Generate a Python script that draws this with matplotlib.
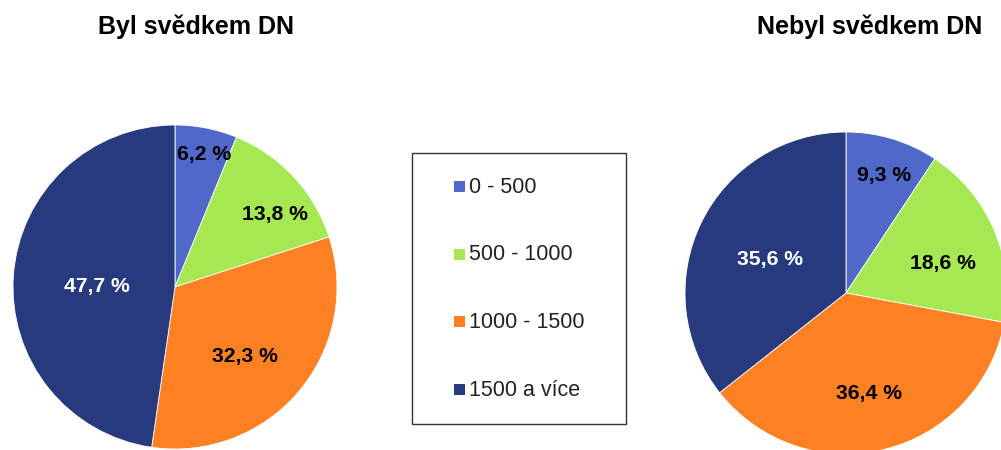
import matplotlib.pyplot as plt
from matplotlib.patches import Rectangle
import numpy as np

plt.rcParams['font.family'] = ['Liberation Sans', 'DejaVu Sans']

categories = ["0 - 500", "500 - 1000", "1000 - 1500", "1500 a více"]
colors = ["#5068C8", "#A6E852", "#FD8022", "#283A7E"]
label_colors = ["black", "black", "black", "white"]

titles = ["Byl svědkem DN", "Nebyl svědkem DN"]
byl = [6.2, 13.8, 32.3, 47.7]
nebyl = [9.3, 18.6, 36.4, 35.6]

# label placement inside wedges (fraction of radius, angle tweak in degrees)
byl_dist = [0.85, 0.77, 0.60, 0.48]
byl_dang = [-1, -6, -4, 2]
nebyl_dist = [0.78, 0.63, 0.63, 0.52]
nebyl_dang = [-1, -5, -1, 1]

W, H = 1001, 450
fig = plt.figure(figsize=(W / 100, H / 100), dpi=100)
ax = fig.add_axes([0, 0, 1, 1])


def draw_pie(values, center, radius, dist, dang, title, title_x):
    cx, cy = center[0], H - center[1]
    wedges, _ = ax.pie(values, colors=colors, startangle=90, counterclock=False,
                       center=(cx, cy), radius=radius,
                       wedgeprops=dict(edgecolor='white', linewidth=0.6))
    for w, v, d, da, tc in zip(wedges, values, dist, dang, label_colors):
        ang = np.deg2rad((w.theta1 + w.theta2) / 2 + da)
        ax.text(cx + d * radius * np.cos(ang), cy + d * radius * np.sin(ang) - 2,
                f"{v:.1f} %".replace('.', ','), ha='center', va='center',
                fontsize=15.2, fontweight='bold', color=tc)
    ax.text(title_x, H - 34, title, ha='center', va='baseline',
            fontsize=18, fontweight='bold', color='black')


draw_pie(byl, (175, 287), 162, byl_dist, byl_dang, titles[0], 196)
draw_pie(nebyl, (846, 293), 161, nebyl_dist, nebyl_dang, titles[1], 870)

# legend box
ax.add_patch(Rectangle((412, H - 424), 214, 271, facecolor='white',
                       edgecolor='#333333', linewidth=1.0))
for yy, cat, c in zip(np.linspace(186.5, 389, 4), categories, colors):
    ax.add_patch(Rectangle((454, H - yy - 5.5), 11, 11, facecolor=c, edgecolor='none'))
    ax.text(469, H - yy - 1, cat, ha='left', va='center', fontsize=15.5, color='#222222')

ax.set_xlim(0, W)
ax.set_ylim(0, H)
ax.set_aspect('auto')
ax.axis('off')

fig.savefig("out.png", dpi=100, facecolor='white')
